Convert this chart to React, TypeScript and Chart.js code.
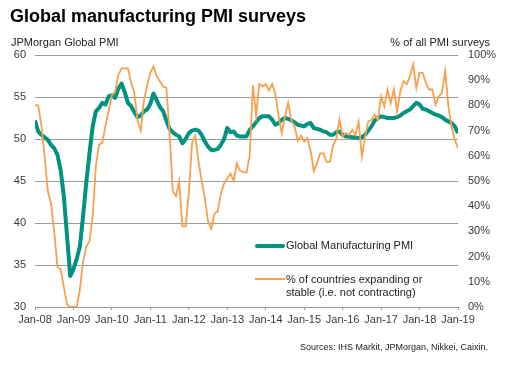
import React, { useEffect, useRef } from "react";
import { Chart, registerables } from "chart.js";

Chart.register(...registerables);

// Month index 0 = Jan-08 ... 132 = Jan-19
const X_TICK_LABELS = [
  "Jan-08", "Jan-09", "Jan-10", "Jan-11", "Jan-12", "Jan-13",
  "Jan-14", "Jan-15", "Jan-16", "Jan-17", "Jan-18", "Jan-19",
];

// JPMorgan Global Manufacturing PMI (left axis)
const PMI = [
  52.2, 50.9, 50.5, 50.2, 49.9, 49.3, 48.9, 48.1, 46.3, 43.2, 38.4, 33.7,
  34.5, 35.7, 37.2, 40.8, 44.8, 48.3, 51.5, 53.3, 53.7, 54.3, 54.1, 55.1,
  55.2, 54.9, 56.0, 56.6, 55.6, 54.3, 53.9, 53.2, 52.6, 52.8, 53.3, 53.5,
  54.2, 55.4, 54.6, 53.8, 53.3, 52.2, 51.2, 50.8, 50.5, 50.3, 49.5, 50.0,
  50.7, 51.0, 51.1, 51.0, 50.5, 49.7, 49.1, 48.7, 48.7, 48.8, 49.3, 50.0,
  51.3, 50.8, 50.9, 50.4, 50.3, 50.3, 50.3, 51.1, 51.5, 52.0, 52.5, 52.7,
  52.7, 52.7, 52.3, 51.7, 51.9, 52.3, 52.5, 52.4, 52.2, 52.0, 51.7, 51.6,
  51.5, 51.8, 51.9, 51.3, 51.2, 51.1, 50.9, 50.8, 50.5, 50.5, 50.8, 50.9,
  50.5, 50.3, 50.3, 50.2, 50.2, 50.1, 50.2, 50.5, 51.0, 51.5, 52.2, 52.5,
  52.7, 52.6, 52.5, 52.5, 52.5, 52.6, 52.8, 53.1, 53.3, 53.5, 53.9, 54.3,
  54.1, 53.6, 53.5, 53.3, 53.1, 52.9, 52.8, 52.6, 52.3, 52.1, 51.9, 51.5,
  50.7,
];

// % of countries expanding or stable (right axis)
const SHARE_EXPANDING = [
  80, 80, 72, 60, 46, 41, 30, 16, 15, 8, 1, 0,
  0, 0, 7, 18, 24, 26, 36, 56, 64.5, 65, 72, 78,
  84, 85.5, 92, 94.7, 94.7, 94.7, 89, 85, 74, 70, 82, 88,
  93, 95.4, 91.5, 89.5, 87.5, 87, 69, 46, 44, 50, 32, 32,
  45, 65, 68, 58, 50, 43, 34, 31, 37, 38, 45, 49,
  51, 53, 50, 57, 54, 53.5, 53.4, 60, 88, 76, 88.5, 87.5,
  88.5, 86, 88.5, 84.5, 76, 69, 75.5, 81, 74, 71.6, 66, 68,
  65.6, 67, 62, 54, 57, 61, 61, 57.6, 57.6, 64, 66.5, 74.5,
  67.6, 69, 68.3, 70.3, 68.3, 73.6, 59.6, 67.6, 73.6, 74.3, 76.3, 74.3,
  83.6, 79.6, 86.3, 80.9, 86.3, 77.6, 85.6, 89.6, 88.3, 91.6, 96.3, 86.9,
  92.9, 92.9, 88.9, 86.3, 86.3, 80.3, 83.6, 84.9, 93.6, 79.6, 71.6, 66.3,
  63,
];

const SERIES_NAMES = [
  "Global Manufacturing PMI",
  "% of countries expanding or stable (i.e. not contracting)",
];

const TEAL = "#00937f";
const ORANGE = "#f7a04e";
const FONT = "'Liberation Sans', Arial, Helvetica, sans-serif";
const TICK_COLOR = "#3a3a3a";
const GRID_COLOR = "#9a9a9a";

export default function App() {
  const canvasRef = useRef<HTMLCanvasElement | null>(null);

  useEffect(() => {
    if (!canvasRef.current) return;
    const chart = new Chart(canvasRef.current, {
      type: "line",
      data: {
        datasets: [
          {
            label: SERIES_NAMES[1],
            data: SHARE_EXPANDING.map((v, i) => ({ x: i, y: v })),
            yAxisID: "y1",
            borderColor: ORANGE,
            borderWidth: 1.8,
            pointRadius: 0,
            tension: 0,
            order: 0,
          },
          {
            label: SERIES_NAMES[0],
            data: PMI.map((v, i) => ({ x: i, y: v })),
            yAxisID: "y",
            borderColor: TEAL,
            borderWidth: 4,
            pointRadius: 0,
            tension: 0,
            borderJoinStyle: "round",
            order: 1,
          },
        ],
      },
      options: {
        animation: false,
        responsive: false,
        events: [],
        layout: { padding: { top: 55, bottom: 40, left: 0, right: 0 } },
        plugins: {
          legend: { display: false },
          tooltip: { enabled: false },
        },
        scales: {
          x: {
            type: "linear",
            min: 0,
            max: 132,
            ticks: {
              stepSize: 12,
              autoSkip: false,
              maxRotation: 0,
              padding: 3,
              color: TICK_COLOR,
              font: { size: 11, family: FONT },
              callback: (_v: any, i: number) => X_TICK_LABELS[i],
            },
            grid: {
              drawOnChartArea: false,
              drawTicks: true,
              tickLength: 3,
              color: GRID_COLOR,
            },
            border: { display: false },
            afterFit: (s: any) => {
              s.height = 20;
            },
          },
          y: {
            position: "left",
            min: 30,
            max: 60,
            ticks: {
              stepSize: 5,
              padding: 9,
              color: TICK_COLOR,
              font: { size: 11, family: FONT },
            },
            grid: { color: GRID_COLOR, drawTicks: false, lineWidth: 1 },
            border: { display: false },
            afterFit: (s: any) => {
              s.width = 35;
            },
          },
          y1: {
            position: "right",
            min: 0,
            max: 100,
            ticks: {
              stepSize: 10,
              padding: 10,
              color: TICK_COLOR,
              font: { size: 11, family: FONT },
              callback: (v: any) => `${v}%`,
            },
            grid: { display: false, drawTicks: false },
            border: { display: false },
            afterFit: (s: any) => {
              s.width = 54;
            },
          },
        },
      },
    } as any);
    return () => chart.destroy();
  }, []);

  const abs = (o: React.CSSProperties): React.CSSProperties => ({
    position: "absolute",
    whiteSpace: "nowrap",
    fontFamily: FONT,
    ...o,
  });

  return (
    <div
      style={{
        position: "fixed",
        left: 0,
        top: 0,
        width: 512,
        height: 367,
        background: "#fff",
        overflow: "hidden",
        fontFamily: FONT,
      }}
    >
      <canvas
        ref={canvasRef}
        width={512}
        height={367}
        style={{ position: "absolute", left: 0, top: 0, width: 512, height: 367 }}
      />
      <div style={abs({ left: 10, top: 6, fontSize: 18, fontWeight: "bold", color: "#000", lineHeight: "20px" })}>
        Global manufacturing PMI surveys
      </div>
      <div style={abs({ left: 11, top: 36, fontSize: 11, color: "#222", lineHeight: "13px" })}>
        JPMorgan Global PMI
      </div>
      <div style={abs({ right: 22, top: 36, fontSize: 11, color: "#222", lineHeight: "13px" })}>
        % of all PMI surveys
      </div>
      {/* legend */}
      <div style={abs({ left: 255, top: 244, width: 30, height: 4, background: TEAL, borderRadius: 2 })} />
      <div style={abs({ left: 286, top: 239, fontSize: 11, color: "#222", lineHeight: "13px" })}>
        {SERIES_NAMES[0]}
      </div>
      <div style={abs({ left: 255, top: 278, width: 30, height: 2, background: ORANGE })} />
      <div style={abs({ left: 286, top: 273, fontSize: 11, color: "#222", lineHeight: "13px" })}>
        % of countries expanding or
        <br />
        stable (i.e. not contracting)
      </div>
      <div style={abs({ right: 24, top: 342, fontSize: 9, color: "#222", lineHeight: "11px" })}>
        Sources: IHS Markit, JPMorgan, Nikkei, Caixin.
      </div>
    </div>
  );
}
